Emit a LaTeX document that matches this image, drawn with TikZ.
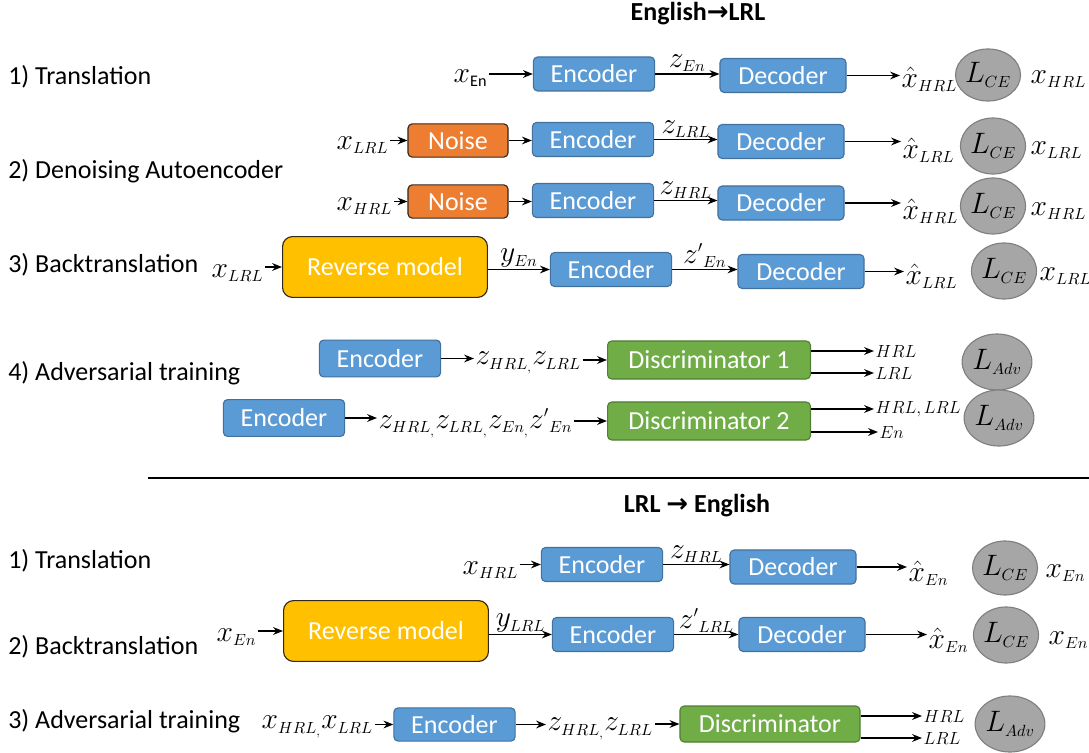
\RequirePackage{fix-cm}
\documentclass[tikz,border=0pt]{standalone}
\usepackage{fontspec}
\setmainfont{Carlito}
\newfontfamily\arrowfont{DejaVu Sans}
\usetikzlibrary{arrows.meta,shapes.geometric}
\DeclareMathSizes{21}{21}{11.5}{9}
\DeclareMathSizes{12.5}{12.5}{9}{7}

\definecolor{bluefill}{RGB}{91,155,213}
\definecolor{blueline}{RGB}{65,113,156}
\definecolor{orangefill}{RGB}{237,125,49}
\definecolor{yellowfill}{RGB}{255,192,0}
\definecolor{greenfill}{RGB}{112,173,71}
\definecolor{greenline}{RGB}{80,126,50}
\definecolor{grayfill}{RGB}{166,166,166}
\definecolor{grayline}{RGB}{127,127,127}
\definecolor{darkline}{RGB}{50,40,30}

\tikzset{
  box/.style={draw=blueline, fill=bluefill, rounded corners=3pt, text=white, line width=0.8pt, inner sep=0pt, minimum height=0.85cm},
  enc/.style={box, minimum width=3.03cm},
  dec/.style={box, minimum width=3.15cm},
  noisebox/.style={box, fill=orangefill, draw=darkline, minimum width=2.5cm, minimum height=0.83cm},
  revbox/.style={box, fill=yellowfill, draw=darkline, rounded corners=7pt, minimum width=5.12cm, minimum height=1.52cm},
  disc/.style={box, fill=greenfill, draw=greenline, minimum width=5.07cm, minimum height=0.95cm},
  loss/.style={ellipse, draw=grayline, fill=grayfill, line width=0.8pt, inner sep=0pt, minimum width=1.45cm, minimum height=1.4cm, font=\fontsize{21}{25}\selectfont},
  lbl/.style={inner sep=1pt, font=\fontsize{21}{25}\selectfont},
  outlbl/.style={inner sep=1pt, anchor=west, font=\fontsize{12.5}{15}\selectfont},
  stage/.style={inner sep=0pt, anchor=west},
  arr/.style={-{Stealth[length=7pt,width=5.5pt]}, line width=0.9pt}
}

\begin{document}
\begin{tikzpicture}[x=0.025cm, y=-0.025cm, font=\fontsize{18.5}{22}\selectfont]
        \useasboundingbox (0,0) rectangle (1089,753);

        % Titolo English -> LRL
        \node[font=\fontsize{18.5}{22}\selectfont\bfseries] at (698, 14) (title1) {English{\arrowfont\bfseries →}LRL};

        % Etichette delle fasi
        \node[stage] at (8, 77) (s1) {1) Translation};
        \node[stage] at (8, 171) (s2) {2) Denoising Autoencoder};
        \node[stage] at (8, 265) (s3) {3) Backtranslation};
        \node[stage] at (8, 373) (s4) {4) Adversarial training};

        % 1) Translation
        \node[lbl, anchor=west] at (452, 78) (xen1) {$x_{\mathrm{En}}$};
        \node[enc] at (594, 74) (enc1) {Encoder};
        \node[dec] at (783, 75.5) (dec1) {Decoder};
        \node[lbl, anchor=west] at (900, 79) (xh1) {$\hat{x}_{HRL}$};
        \node[loss, minimum width=1.4cm, minimum height=1.3cm] at (988, 75) (ce1) {$L_{CE}$};
        \node[lbl, anchor=west] at (1029, 79) (xt1) {$x_{HRL}$};
        \draw[arr] (xen1.east |- enc1.west) -- (enc1.west);
        \draw[arr] (enc1.east) -- (enc1.east -| dec1.west) node[midway, above, lbl] {$z_{En}$};
        \draw[arr] (dec1.east) -- (dec1.east -| xh1.west);

        % 2) Denoising, LRL
        \node[lbl, anchor=west] at (335, 145) (xl2) {$x_{LRL}$};
        \node[noisebox] at (458, 140.5) (n2) {Noise};
        \node[enc] at (593, 139.5) (enc2) {Encoder};
        \node[dec] at (781, 141.5) (dec2) {Decoder};
        \node[lbl, anchor=west] at (901, 150) (xh2) {$\hat{x}_{LRL}$};
        \node[loss] at (993, 146) (ce2) {$L_{CE}$};
        \node[lbl, anchor=west] at (1029, 150) (xt2) {$x_{LRL}$};
        \draw[arr] (xl2.east |- n2.west) -- (n2.west);
        \draw[arr] (n2.east) -- (n2.east -| enc2.west);
        \draw[arr] (enc2.east) -- (enc2.east -| dec2.west) node[midway, above, lbl] {$z_{LRL}$};
        \draw[arr] (dec2.east) -- (dec2.east -| xh2.west);

        % 2) Denoising, HRL
        \node[lbl, anchor=west] at (335, 206) (xl3) {$x_{HRL}$};
        \node[noisebox] at (458, 201.5) (n3) {Noise};
        \node[enc] at (593, 200.5) (enc3) {Encoder};
        \node[dec] at (781, 203) (dec3) {Decoder};
        \node[lbl, anchor=west] at (901, 211) (xh3) {$\hat{x}_{HRL}$};
        \node[loss] at (993, 206) (ce3) {$L_{CE}$};
        \node[lbl, anchor=west] at (1029, 211) (xt3) {$x_{HRL}$};
        \draw[arr] (xl3.east |- n3.west) -- (n3.west);
        \draw[arr] (n3.east) -- (n3.east -| enc3.west);
        \draw[arr] (enc3.east) -- (enc3.east -| dec3.west) node[midway, above, lbl] {$z_{HRL}$};
        \draw[arr] (dec3.east) -- (dec3.east -| xh3.west);

        % 3) Backtranslation
        \node[lbl, anchor=west] at (210, 273) (xl4) {$x_{LRL}$};
        \node[revbox] at (385, 267) (rev4) {Reverse model};
        \node[enc] at (611, 269.5) (enc4) {Encoder};
        \node[dec] at (801, 271.5) (dec4) {Decoder};
        \node[lbl, anchor=west] at (904, 276) (xh4) {$\hat{x}_{LRL}$};
        \node[loss] at (1004, 271) (ce4) {$L_{CE}$};
        \node[lbl, anchor=west] at (1038, 276) (xt4) {$x_{LRL}$};
        \draw[arr] (xl4.east |- rev4.west) -- (rev4.west);
        \draw[arr] (rev4.east |- enc4.west) -- (enc4.west) node[midway, above, lbl] {$y_{En}$};
        \draw[arr] (enc4.east) -- (enc4.east -| dec4.west) node[midway, above, lbl] {${z'}_{En}$};
        \draw[arr] (dec4.east) -- (dec4.east -| xh4.west);

        % 4) Adversarial training, discriminatore 1
        \node[enc, minimum height=0.92cm] at (380, 358.5) (enc5) {Encoder};
        \node[lbl, anchor=west] at (474, 363) (z5) {$z_{HRL_{,}}z_{LRL}$};
        \node[disc] at (709, 360) (d5) {Discriminator 1};
        \node[outlbl] at (874, 351) (o5a) {$HRL$};
        \node[outlbl] at (874, 373) (o5b) {$LRL$};
        \node[loss] at (997, 362) (adv5) {$L_{Adv}$};
        \draw[arr] (enc5.east) -- (enc5.east -| z5.west);
        \draw[arr] (z5.east |- d5.west) -- (d5.west);
        \draw[arr] (d5.east |- o5a.west) -- (o5a.west);
        \draw[arr] (d5.east |- o5b.west) -- (o5b.west);

        % 4) Adversarial training, discriminatore 2
        \node[enc, minimum height=0.92cm] at (284, 418) (enc6) {Encoder};
        \node[lbl, anchor=west] at (377, 423) (z6) {$z_{HRL_{,}}z_{LRL_{,}}z_{En_{,}}{z'}_{En}$};
        \node[disc] at (709, 421) (d6) {Discriminator 2};
        \node[outlbl] at (874, 409) (o6a) {$HRL, LRL$};
        \node[outlbl] at (878, 432) (o6b) {$En$};
        \node[loss] at (999, 418) (adv6) {$L_{Adv}$};
        \draw[arr] (enc6.east) -- (enc6.east -| z6.west);
        \draw[arr] (z6.east |- d6.west) -- (d6.west);
        \draw[arr] (d6.east |- o6a.west) -- (o6a.west);
        \draw[arr] (d6.east |- o6b.west) -- (o6b.west);

        % Linea di separazione
        \draw[line width=1.8pt] (148, 478) -- (1089, 478);

        % Titolo LRL -> English
        \node[font=\fontsize{18.5}{22}\selectfont\bfseries] at (697, 506) (title2) {LRL {\arrowfont\bfseries →} English};

        % Etichette delle fasi
        \node[stage] at (8, 561) (t1) {1) Translation};
        \node[stage] at (8, 647) (t2) {2) Backtranslation};
        \node[stage] at (8, 721) (t3) {3) Adversarial training};

        % 1) Translation
        \node[lbl, anchor=west] at (461, 570) (xh7) {$x_{HRL}$};
        \node[enc] at (602, 564.5) (enc7) {Encoder};
        \node[dec] at (793, 567) (dec7) {Decoder};
        \node[lbl, anchor=west] at (907, 573) (xo7) {$\hat{x}_{En}$};
        \node[loss, minimum width=1.4cm, minimum height=1.35cm] at (1005, 568) (ce7) {$L_{CE}$};
        \node[lbl, anchor=west] at (1044, 573) (xt7) {$x_{En}$};
        \draw[arr] (xh7.east |- enc7.west) -- (enc7.west);
        \draw[arr] (enc7.east) -- (enc7.east -| dec7.west) node[midway, above, lbl] {$z_{HRL}$};
        \draw[arr] (dec7.east) -- (dec7.east -| xo7.west);

        % 2) Backtranslation
        \node[lbl, anchor=west] at (215, 637) (xe8) {$x_{En}$};
        \node[revbox] at (386, 631) (rev8) {Reverse model};
        \node[enc] at (613, 634.5) (enc8) {Encoder};
        \node[dec] at (802, 634.5) (dec8) {Decoder};
        \node[lbl, anchor=west] at (927, 640) (xo8) {$\hat{x}_{En}$};
        \node[loss] at (1006, 635) (ce8) {$L_{CE}$};
        \node[lbl, anchor=west] at (1047, 640) (xt8) {$x_{En}$};
        \draw[arr] (xe8.east |- rev8.west) -- (rev8.west);
        \draw[arr] (rev8.east |- enc8.west) -- (enc8.west) node[midway, above, lbl] {$y_{LRL}$};
        \draw[arr] (enc8.east) -- (enc8.east -| dec8.west) node[midway, above, lbl] {${z'}_{LRL}$};
        \draw[arr] (dec8.east) -- (dec8.east -| xo8.west);

        % 3) Adversarial training
        \node[lbl, anchor=west] at (260, 727) (x9) {$x_{HRL_{,}}x_{LRL}$};
        \node[enc, minimum height=0.83cm] at (454.5, 724.5) (enc9) {Encoder};
        \node[lbl, anchor=west] at (546, 729) (z9) {$z_{HRL_{,}}z_{LRL}$};
        \node[disc, minimum width=4.5cm, minimum height=0.9cm] at (770, 724) (d9) {Discriminator};
        \node[outlbl] at (922, 716) (o9a) {$HRL$};
        \node[outlbl] at (922, 738) (o9b) {$LRL$};
        \node[loss] at (1010, 724) (adv9) {$L_{Adv}$};
        \draw[arr] (x9.east |- enc9.west) -- (enc9.west);
        \draw[arr] (enc9.east) -- (enc9.east -| z9.west);
        \draw[arr] (z9.east |- d9.west) -- (d9.west);
        \draw[arr] (d9.east |- o9a.west) -- (o9a.west);
        \draw[arr] (d9.east |- o9b.west) -- (o9b.west);
    \end{tikzpicture}
\end{document}
